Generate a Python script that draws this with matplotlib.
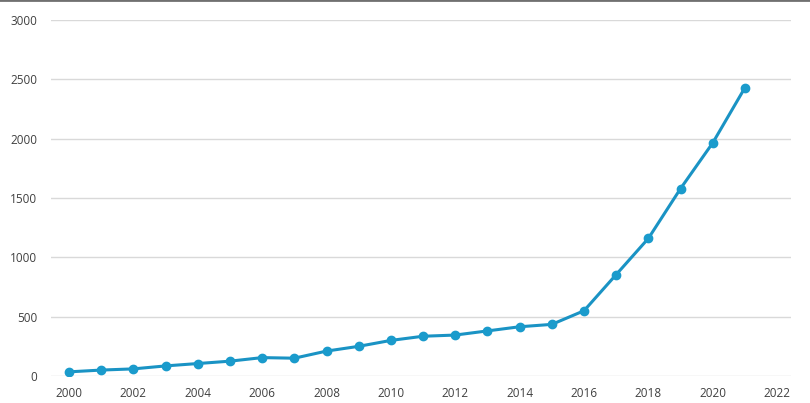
import matplotlib
matplotlib.use("Agg")
import matplotlib.pyplot as plt
from matplotlib.lines import Line2D

years = [2000, 2001, 2002, 2003, 2004, 2005, 2006, 2007, 2008, 2009, 2010,
         2011, 2012, 2013, 2014, 2015, 2016, 2017, 2018, 2019, 2020, 2021]
values = [35, 50, 60, 85, 105, 125, 155, 150, 210, 250, 300,
          335, 345, 380, 415, 435, 550, 855, 1160, 1580, 1965, 2430]

x_ticks = list(range(2000, 2023, 2))
y_ticks = [0, 500, 1000, 1500, 2000, 2500, 3000]

plt.rcParams['font.family'] = ['Open Sans', 'DejaVu Sans']

fig = plt.figure(figsize=(8.1, 4.03), dpi=100)
ax = fig.add_axes([51 / 810, 1 - 376 / 403, (791 - 51) / 810, (376 - 20) / 403])

ax.plot(years, values, color='#1a93c4', linewidth=2.2, marker='o',
        markersize=6, markerfacecolor='#1a9bcc', markeredgecolor='#1a9bcc', zorder=3)

ax.set_xlim(1999.44, 2022.43)
ax.set_ylim(0, 3000)
ax.set_xticks(x_ticks)
ax.set_yticks(y_ticks)
ax.grid(axis='y', color='#d9d9d9', linewidth=1)
ax.set_axisbelow(True)
for s in ax.spines.values():
    s.set_visible(False)
ax.tick_params(length=0, labelsize=8.5, labelcolor='#404040')
ax.tick_params(axis='x', pad=8)
ax.tick_params(axis='y', pad=10)

# thin dark line along the top edge of the image
fig.add_artist(Line2D([0, 1], [0.999, 0.999], transform=fig.transFigure,
                      color='#707070', linewidth=2))

fig.savefig("out.png", dpi=100)
plt.close(fig)
